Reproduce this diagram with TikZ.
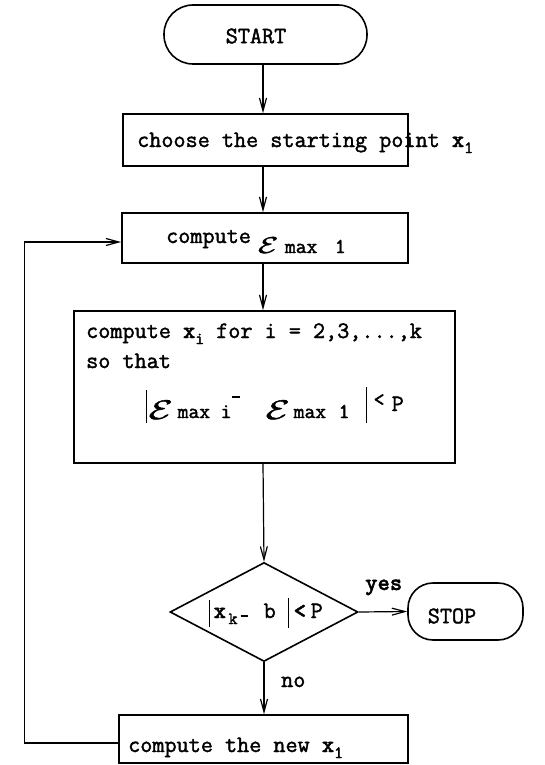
\documentclass[tikz,border=0pt]{standalone}
\usepackage{fix-cm}
\usepackage{graphicx}
\usetikzlibrary{arrows.meta,shapes.geometric}
\newcommand\heavy{\special{pdf:literal direct 2 Tr 0.4 w}}
\newcommand\tw{\fontsize{23.5}{27}\selectfont\ttfamily\heavy}
\newcommand\smtt{\fontsize{21}{23}\selectfont\ttfamily}
\newcommand\subtt[1]{\raisebox{-6pt}{\fontsize{17}{17}\selectfont\ttfamily #1}}
\newcommand\bx{{\bfseries x}}
\newcommand\scE{\scalebox{1.45}[1]{\fontsize{27}{27}\selectfont$\mathcal{E}$}}
\newcommand\pc[2]{\rlap{\hspace*{#1pt}#2}}
\newcommand\vbar[2]{\raisebox{-#1pt}{\rule{1.6pt}{#2pt}}}
\tikzset{
  box/.style={draw,line width=1.6pt,inner sep=0pt},
  lbl/.style={inner sep=0pt,anchor=base west,font=\tw},
  arr/.style={line width=1.2pt,-{Straight Barb[length=13pt,width=7pt,line width=1.2pt]}},
}
\begin{document}
\begin{tikzpicture}[x=1pt,y=-1pt]
\useasboundingbox (0,0) rectangle (544,765);
% START
\node[box,rounded corners=29pt,minimum width=203pt,minimum height=59pt] (start) at (265.5,34.5) {};
\node[lbl,anchor=center] (tstart) at (256,36) {START};
% box 1
\node[box,minimum width=285pt,minimum height=52pt] (b1) at (265.5,140) {};
\node[lbl] (t1) at (137,147) {choose the starting point \bx\subtt{1}};
% box 2
\node[box,minimum width=286pt,minimum height=50pt] (b2) at (265,238) {};
\node[lbl] (t2) at (166,243) {compute\pc{7}{\raisebox{-10pt}{\scalebox{0.85}{\scE}}}\pc{34}{\raisebox{-10pt}{\smtt max}}\pc{84}{\raisebox{-10pt}{\smtt 1}}};
% box 3
\node[box,minimum width=381pt,minimum height=152pt] (b3) at (264.5,387) {};
\node[lbl] (t3a) at (86,338) {compute \bx\subtt{i} for i = 2,3,...,k};
\node[lbl] (t3b) at (86,368) {so that};
\node[lbl] (t3c) at (145,418) {\pc{0}{\vbar{5}{33}}\pc{3}{\raisebox{-1pt}{\scE}}\pc{32}{\smtt max}\pc{75}{\smtt i}\pc{86}{\raisebox{20pt}{\rule{8pt}{1.6pt}}}\pc{120}{\raisebox{-1pt}{\scE}}\pc{148}{\smtt max}\pc{193}{\smtt 1}\pc{220}{\vbar{5}{36}}\pc{228}{\raisebox{12pt}{\smtt <}}\pc{246}{\raisebox{7pt}{P}}};
% decision
\node[draw,line width=1.6pt,diamond,inner sep=0pt,minimum width=188pt,minimum height=99pt] (d) at (264,612) {};
\node[lbl] (td) at (208,618) {\pc{0}{\vbar{9}{27}}\pc{5}{\bx}\pc{20}{\subtt{k}}\pc{32}{\raisebox{1.5pt}{\rule{7pt}{1.6pt}}}\pc{55}{b}\pc{79}{\vbar{10}{30}}\pc{85}{{\bfseries <}}\pc{102}{P}};
% STOP
\node[box,rounded corners=25pt,minimum width=115pt,minimum height=57pt] (stop) at (465.5,611.5) {};
\node[lbl,anchor=center] (tstop) at (452,616) {STOP};
\node[lbl] (tyes) at (365,590) {\bfseries yes};
\node[lbl] (tno) at (281,687) {no};
% box 4
\node[box,minimum width=289pt,minimum height=48pt] (b4) at (263.5,739) {};
\node[lbl] (t4) at (128,752) {compute the new \bx\subtt{1}};
% connectors
\draw[arr] (start.south -| 263,0) -- (b1.north -| 263,0);
\draw[arr] (b1.south -| 263,0) -- (b2.north -| 263,0);
\draw[arr] (b2.south -| 263,0) -- (b3.north -| 263,0);
\draw[arr] (b3.south -| 263,0) -- (d.north);
\draw[arr] (d.east) -- (stop.west);
\draw[arr] (d.south) -- (b4.north -| d.south);
\draw[arr] ([yshift=-4pt]b4.west) -- ++(-94,0) |- ([yshift=-4pt]b2.west);
\end{tikzpicture}
\end{document}
